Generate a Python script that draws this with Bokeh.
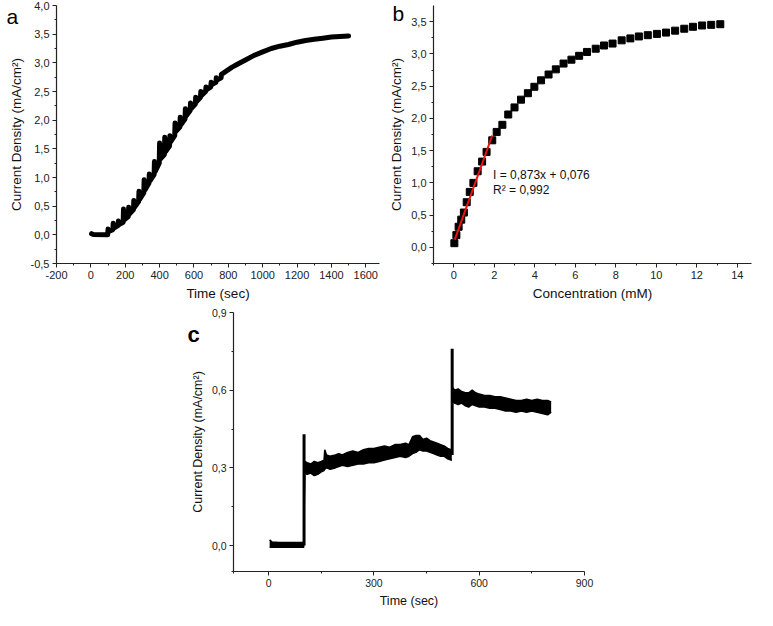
from bokeh.plotting import figure
from bokeh.models import FixedTicker, Label, Spacer
from bokeh.layouts import column, row
from bokeh.embed import file_html
from bokeh.resources import INLINE

FONT = "Liberation Sans"

# ---------------- Panel a: amperometric response (time vs current density)
a_time = [4, 15, 98,
          100, 104, 128, 130, 134, 158, 160, 164, 188,
          190, 194, 218, 220, 224, 248, 250, 254, 278,
          280, 284, 308, 310, 314, 338, 340, 344, 368,
          370, 374, 398, 400, 404, 428, 430, 434, 458,
          460, 464, 488, 490, 494, 518, 520, 524, 548,
          550, 554, 578, 580, 584, 608, 610, 614, 638,
          640, 644, 668, 670, 674, 698, 700, 704, 728,
          730, 734, 758, 760, 790, 820, 850, 900, 950,
          1000, 1050, 1100, 1150, 1200, 1250, 1300, 1350, 1400, 1450, 1500]
a_current = [0.02, 0.005, 0.0,
             0.10, 0.06, 0.09, 0.20, 0.12, 0.16, 0.24, 0.18, 0.22,
             0.45, 0.26, 0.32, 0.48, 0.36, 0.44, 0.60, 0.48, 0.58,
             0.76, 0.62, 0.73, 0.96, 0.78, 0.90, 1.06, 0.94, 1.05,
             1.28, 1.10, 1.25, 1.60, 1.32, 1.40, 1.70, 1.45, 1.55,
             1.73, 1.62, 1.73, 1.95, 1.80, 1.88, 2.05, 1.92, 2.02,
             2.20, 2.07, 2.17, 2.30, 2.20, 2.28, 2.40, 2.32, 2.40,
             2.50, 2.43, 2.50, 2.58, 2.53, 2.58, 2.66, 2.62, 2.66,
             2.74, 2.70, 2.74, 2.80, 2.86, 2.92, 2.97, 3.05, 3.13,
             3.19, 3.25, 3.29, 3.32, 3.36, 3.39, 3.41, 3.43, 3.45, 3.46, 3.47]
a_xticks = [-200, 0, 200, 400, 600, 800, 1000, 1200, 1400, 1600]
a_xlabels = ["-200", "0", "200", "400", "600", "800", "1000", "1200", "1400", "1600"]
a_xminor = [-100, 100, 300, 500, 700, 900, 1100, 1300, 1500]
a_yticks = [-0.5, 0.0, 0.5, 1.0, 1.5, 2.0, 2.5, 3.0, 3.5, 4.0]
a_ylabels = ["-0,5", "0,0", "0,5", "1,0", "1,5", "2,0", "2,5", "3,0", "3,5", "4,0"]
a_yminor = [-0.25, 0.25, 0.75, 1.25, 1.75, 2.25, 2.75, 3.25, 3.75]

# ---------------- Panel b: calibration (concentration vs current density)
b_conc = [0.03, 0.13, 0.24, 0.37, 0.50, 0.64, 0.79, 0.97, 1.18, 1.40,
          1.62, 1.90, 2.12, 2.40, 2.69, 3.00, 3.32, 3.66, 3.98, 4.31,
          4.68, 5.04, 5.42, 5.81, 6.19, 6.58, 7.01, 7.42, 7.84, 8.29,
          8.72, 9.14, 9.58, 10.03, 10.48, 10.93, 11.38, 11.81, 12.26, 12.71, 13.16]
b_current = [0.065, 0.19, 0.32, 0.43, 0.54, 0.70, 0.86, 1.00, 1.18, 1.33,
             1.48, 1.66, 1.79, 1.90, 2.06, 2.17, 2.29, 2.39, 2.49, 2.59,
             2.68, 2.76, 2.85, 2.91, 2.97, 3.03, 3.08, 3.13, 3.16, 3.21,
             3.24, 3.27, 3.29, 3.31, 3.33, 3.36, 3.39, 3.42, 3.44, 3.45, 3.46]
fit_slope = 0.873
fit_intercept = 0.076
fit_x = [0.05, 1.9]
fit_label = "I = 0,873x + 0,076"
r2_label = "R\u00b2 = 0,992"
b_xticks = [0, 2, 4, 6, 8, 10, 12, 14]
b_xlabels = ["0", "2", "4", "6", "8", "10", "12", "14"]
b_xminor = [-1, 1, 3, 5, 7, 9, 11, 13]
b_yticks = [0.0, 0.5, 1.0, 1.5, 2.0, 2.5, 3.0, 3.5]
b_ylabels = ["0,0", "0,5", "1,0", "1,5", "2,0", "2,5", "3,0", "3,5"]
b_yminor = [-0.25, 0.25, 0.75, 1.25, 1.75, 2.25, 2.75, 3.25]

# ---------------- Panel c: interference test (band envelope of noisy trace)
c_time = [3, 10, 30, 60, 99, 100,
          103, 110, 120, 130, 140, 150, 158, 160, 165, 175, 190, 200, 210, 225,
          240, 255, 270, 285, 300, 315, 330, 345, 360, 375, 390, 400, 410, 420,
          430, 440, 450, 460, 470, 480, 490, 500, 510, 520, 522]
c_low = [-0.006, -0.006, -0.006, -0.006, -0.006, -0.006,
         0.28, 0.275, 0.28, 0.27, 0.275, 0.285, 0.29, 0.295, 0.30, 0.295, 0.30, 0.305, 0.31, 0.305,
         0.31, 0.315, 0.315, 0.32, 0.32, 0.325, 0.33, 0.335, 0.34, 0.345, 0.34, 0.345, 0.355, 0.36,
         0.37, 0.365, 0.365, 0.36, 0.355, 0.35, 0.345, 0.345, 0.335, 0.33, 0.33]
c_high = [0.022, 0.014, 0.012, 0.012, 0.012, 0.012,
          0.325, 0.32, 0.315, 0.325, 0.32, 0.325, 0.33, 0.37, 0.35, 0.345, 0.35, 0.355, 0.35, 0.36,
          0.365, 0.36, 0.37, 0.375, 0.375, 0.38, 0.385, 0.38, 0.39, 0.39, 0.395, 0.39, 0.42, 0.425,
          0.425, 0.41, 0.415, 0.405, 0.40, 0.395, 0.39, 0.385, 0.375, 0.37, 0.37]
c2_time = [525, 530, 540, 550, 560, 570, 580, 590, 600, 615, 630, 645, 660, 675,
           690, 705, 720, 735, 750, 765, 780, 795, 805]
c2_low = [0.555, 0.55, 0.545, 0.55, 0.54, 0.535, 0.545, 0.54, 0.535, 0.535, 0.53, 0.53, 0.525, 0.52,
          0.52, 0.515, 0.52, 0.515, 0.52, 0.515, 0.51, 0.505, 0.515]
c2_high = [0.61, 0.60, 0.605, 0.595, 0.59, 0.59, 0.60, 0.59, 0.585, 0.58, 0.58, 0.575, 0.575, 0.57,
           0.565, 0.56, 0.56, 0.565, 0.56, 0.565, 0.56, 0.56, 0.555]
c_spike_t = [101, 523]
c_spike_from = [0.0, 0.35]
c_spike_to = [0.43, 0.76]
c_xticks = [0, 300, 600, 900]
c_xlabels = ["0", "300", "600", "900"]
c_xminor = [-100, 150, 450, 750]
c_yticks = [0.0, 0.3, 0.6, 0.9]
c_ylabels = ["0,0", "0,3", "0,6", "0,9"]
c_yminor = [-0.1, 0.15, 0.45, 0.75]

y_title = "Current Density (mA/cm\u00b2)"


def style(p, xt, xl, xm, yt, yl, ym, tick_size, title_size, xtitle):
    p.xaxis.ticker = FixedTicker(ticks=xt, minor_ticks=xm)
    p.yaxis.ticker = FixedTicker(ticks=yt, minor_ticks=ym)
    p.xaxis.major_label_overrides = {t: l for t, l in zip(xt, xl)}
    p.yaxis.major_label_overrides = {t: l for t, l in zip(yt, yl)}
    p.xgrid.visible = False
    p.ygrid.visible = False
    p.outline_line_color = None
    p.xaxis.axis_label = xtitle
    p.yaxis.axis_label = y_title
    for ax in (p.xaxis, p.yaxis):
        ax.axis_line_color = "#222222"
        ax.axis_line_width = 1.2
        ax.major_tick_line_color = "#222222"
        ax.minor_tick_line_color = "#222222"
        ax.major_tick_out = 4
        ax.major_tick_in = 0
        ax.minor_tick_out = 2
        ax.minor_tick_in = 0
        ax.major_label_text_font = FONT
        ax.major_label_text_font_size = tick_size
        ax.major_label_text_color = "#222222"
        ax.major_label_standoff = 3
        ax.axis_label_text_font = FONT
        ax.axis_label_text_font_size = title_size
        ax.axis_label_text_font_style = "normal"
        ax.axis_label_text_color = "#111111"
        ax.axis_label_standoff = 4


def panel_title(p, text, offset, standoff, size, style_="normal"):
    # the panel letter is the figure title, pulled down beside the y axis
    p.title.text = text
    p.title.align = "left"
    p.title.offset = offset
    p.title.standoff = standoff
    p.title.text_font = FONT
    p.title.text_font_size = size
    p.title.text_font_style = style_
    p.title.text_color = "black"


# Panel a
pa = figure(width=385, height=304, x_range=(-200, 1680), y_range=(-0.5, 4.0),
            min_border_left=56, min_border_right=6, min_border_top=5, min_border_bottom=41,
            output_backend="svg", toolbar_location=None)
pa.line(a_time, a_current, line_color="black", line_width=5, line_join="round", line_cap="round")
style(pa, a_xticks, a_xlabels, a_xminor, a_yticks, a_ylabels, a_yminor, "11px", "13.5px", "Time (sec)")
panel_title(pa, "a", -50, -45, "21px")

# Panel b
pb = figure(width=372, height=304, x_range=(-1, 14.7), y_range=(-0.25, 3.75),
            min_border_left=48, min_border_right=6, min_border_top=5, min_border_bottom=41,
            output_backend="svg", toolbar_location=None)
pb.scatter(b_conc, b_current, marker="square", size=7, fill_color="black", line_color="black")
fit_y = [fit_slope * x + fit_intercept for x in fit_x]
pb.line(fit_x, fit_y, line_color="#ee1111", line_width=2)
style(pb, b_xticks, b_xlabels, b_xminor, b_yticks, b_ylabels, b_yminor, "11px", "13.5px", "Concentration (mM)")
pb.add_layout(Label(x=1.94, y=1.12, text=fit_label, text_font=FONT, text_font_size="12px",
                    text_baseline="middle", text_align="left", text_color="#111111"))
pb.add_layout(Label(x=1.94, y=0.886, text=r2_label, text_font=FONT, text_font_size="12px",
                    text_baseline="middle", text_align="left", text_color="#111111"))
panel_title(pb, "b", -41, -39, "21px")

# Panel c
pc = figure(width=460, height=306, x_range=(-100, 900), y_range=(-0.1, 0.9),
            min_border_left=83, min_border_right=26, min_border_top=8, min_border_bottom=38,
            output_backend="svg", toolbar_location=None)
pc.varea(x=c_time, y1=c_low, y2=c_high, fill_color="black")
pc.line(c_time, c_low, line_color="black", line_width=1.5)
pc.line(c_time, c_high, line_color="black", line_width=1.5)
pc.varea(x=c2_time, y1=c2_low, y2=c2_high, fill_color="black")
pc.line(c2_time, c2_low, line_color="black", line_width=1.5)
pc.line(c2_time, c2_high, line_color="black", line_width=1.5)
pc.segment(x0=c_spike_t, y0=c_spike_from, x1=c_spike_t, y1=c_spike_to,
           line_color="black", line_width=3)
style(pc, c_xticks, c_xlabels, c_xminor, c_yticks, c_ylabels, c_yminor, "10.5px", "12.5px", "Time (sec)")
panel_title(pc, "c", -46, -69, "22px", "bold")

layout = column(row(pa, pb), row(Spacer(width=150, height=306), pc))

with open("out.html", "w") as f:
    f.write(file_html(layout, INLINE))
